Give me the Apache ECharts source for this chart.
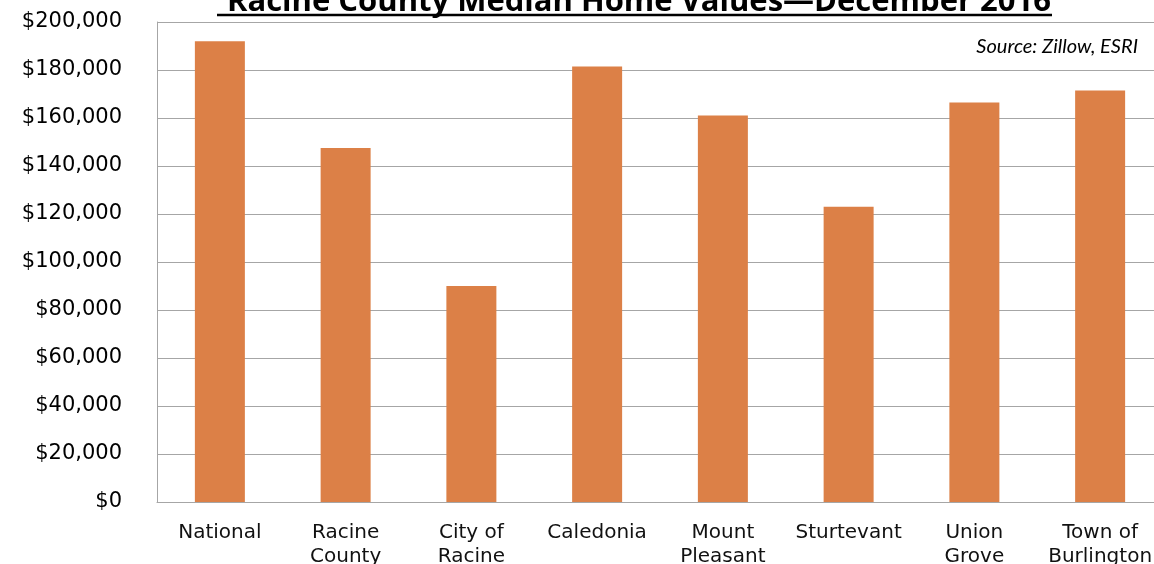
<!DOCTYPE html>
<html>
<head>
<meta charset="utf-8">
<script src="https://cdn.jsdelivr.net/npm/echarts@6/dist/echarts.min.js"></script>
<style>html,body{margin:0;padding:0;background:#fff;}#c{width:1154px;height:564px;}</style>
</head>
<body>
<div id="c"></div>
<script>
const categories = ['National', 'Racine\nCounty', 'City of\nRacine', 'Caledonia', 'Mount\nPleasant', 'Sturtevant', 'Union\nGrove', 'Town of\nBurlington'];
const medianValues = [192000, 147500, 90000, 181500, 161000, 123000, 166500, 171500];
const yTicks = [0, 20000, 40000, 60000, 80000, 100000, 120000, 140000, 160000, 180000, 200000];
const titleText = 'Racine County Median Home Values\u2014December 2016';
const sourceText = 'Source: Zillow, ESRI';

const chart = echarts.init(document.getElementById('c'));
chart.setOption({
  animation: false,
  backgroundColor: '#ffffff',
  title: [{
    text: titleText,
    left: 634, top: -18, textAlign: 'center',
    textStyle: { fontFamily: 'Open Sans', fontWeight: 'bold', fontSize: 31, color: '#000' }
  }, {
    text: sourceText,
    right: 11, top: 32,
    textStyle: { fontFamily: 'Lato', fontStyle: 'italic', fontWeight: 'normal', fontSize: 20, color: '#000' }
  }],
  graphic: [{
    type: 'line',
    shape: { x1: 217, y1: 15, x2: 1052, y2: 15 },
    style: { stroke: '#000', lineWidth: 2.5 }
  }],
  grid: { left: 157, right: -9, top: 22, bottom: 62, outerBoundsMode: 'none', containLabel: false },
  xAxis: {
    type: 'category',
    data: categories,
    axisLine: { show: true, lineStyle: { color: '#a6a6a6', width: 1 } },
    axisTick: { show: false },
    axisLabel: {
      interval: 0, margin: 19, lineHeight: 24,
      fontFamily: 'DejaVu Sans', fontWeight: 'normal', fontSize: 20, color: '#111'
    }
  },
  yAxis: {
    type: 'value',
    min: 0, max: 200000, interval: 20000,
    axisLine: { show: true, lineStyle: { color: '#a6a6a6', width: 1 } },
    axisTick: { show: false },
    splitLine: { show: true, lineStyle: { color: '#a6a6a6', width: 1 } },
    axisLabel: {
      margin: 35,
      fontFamily: 'DejaVu Sans', fontWeight: 'normal', fontSize: 21, color: '#000',
      formatter: function (v) {
        return yTicks.indexOf(v) >= 0 ? '$' + v.toLocaleString('en-US') : '';
      }
    }
  },
  series: [{
    type: 'bar',
    data: medianValues,
    barWidth: 50,
    itemStyle: { color: '#DC8047' }
  }]
});
</script>
</body>
</html>
